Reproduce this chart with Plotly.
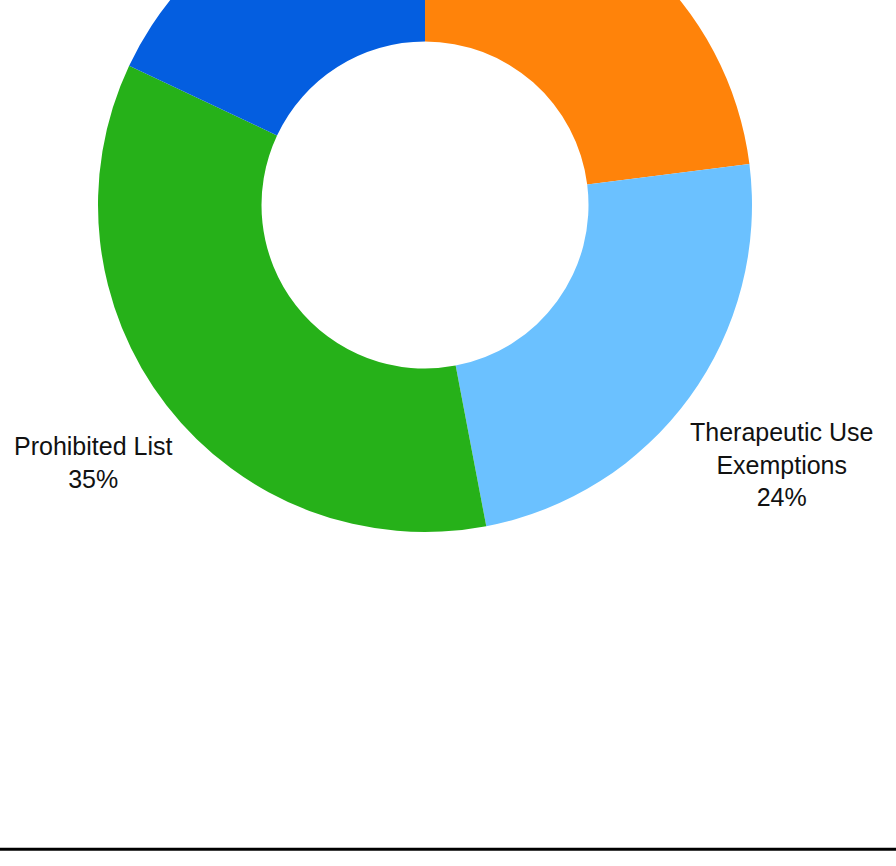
import numpy as np
import plotly.graph_objects as go

# Data
categories = ["Testing", "Therapeutic Use<br>Exemptions", "Prohibited List", "Results Management"]
values = [23, 24, 35, 18]
colors = ["#ff830a", "#6bc1ff", "#26b119", "#045ee0"]

W, H = 896, 1020
SHIFT = 160          # page offset (px): the donut sits partly above the window top
CX, CY, R = 425, 205, 327   # donut centre / outer radius in window pixels

fig = go.Figure(
    go.Pie(
        labels=categories,
        values=values,
        hole=0.5,
        sort=False,
        direction="clockwise",
        rotation=0,
        marker=dict(colors=colors, line=dict(width=0)),
        textinfo="none",
        domain=dict(x=[(CX - R) / W, (CX + R) / W],
                    y=[1 - (CY + SHIFT + R) / H, 1 - (CY + SHIFT - R) / H]),
        showlegend=False,
        hoverinfo="label+percent",
    )
)

# outside labels, centred on each slice's mid-angle ray
vals = np.array(values, dtype=float)
pct = vals / vals.sum() * 100
ends = np.cumsum(vals) / vals.sum() * 360
mids = np.radians(ends - vals / vals.sum() * 180)
for lab, p, a in zip(categories, pct, mids):
    n_lines = lab.count("<br>") + 2
    dist = R + 51 + 21 * n_lines
    px = CX + dist * np.sin(a)
    py = CY + SHIFT - dist * np.cos(a)
    fig.add_annotation(
        x=px / W, y=1 - py / H, xref="paper", yref="paper",
        text=f"{lab}<br>{p:.0f}%", showarrow=False,
        xanchor="center", yanchor="middle", align="center",
        font=dict(family="Liberation Sans, Arial, sans-serif", size=25, color="#111111"),
    )

fig.add_shape(type="line", xref="paper", yref="paper", x0=0, x1=1,
              y0=1 - (849.3 + SHIFT) / H, y1=1 - (849.3 + SHIFT) / H,
              line=dict(color="#000000", width=3))

fig.update_layout(
    width=W, height=H,
    margin=dict(l=0, r=0, t=0, b=0),
    paper_bgcolor="white",
    plot_bgcolor="white",
    showlegend=False,
)

post = (
    "document.documentElement.style.overflow='hidden';"
    "document.body.style.margin='0';"
    "document.body.style.overflow='hidden';"
    "document.getElementById('{plot_id}').style.marginTop='-" + str(SHIFT) + "px';"
)

fig.write_html("out.html", post_script=post)
